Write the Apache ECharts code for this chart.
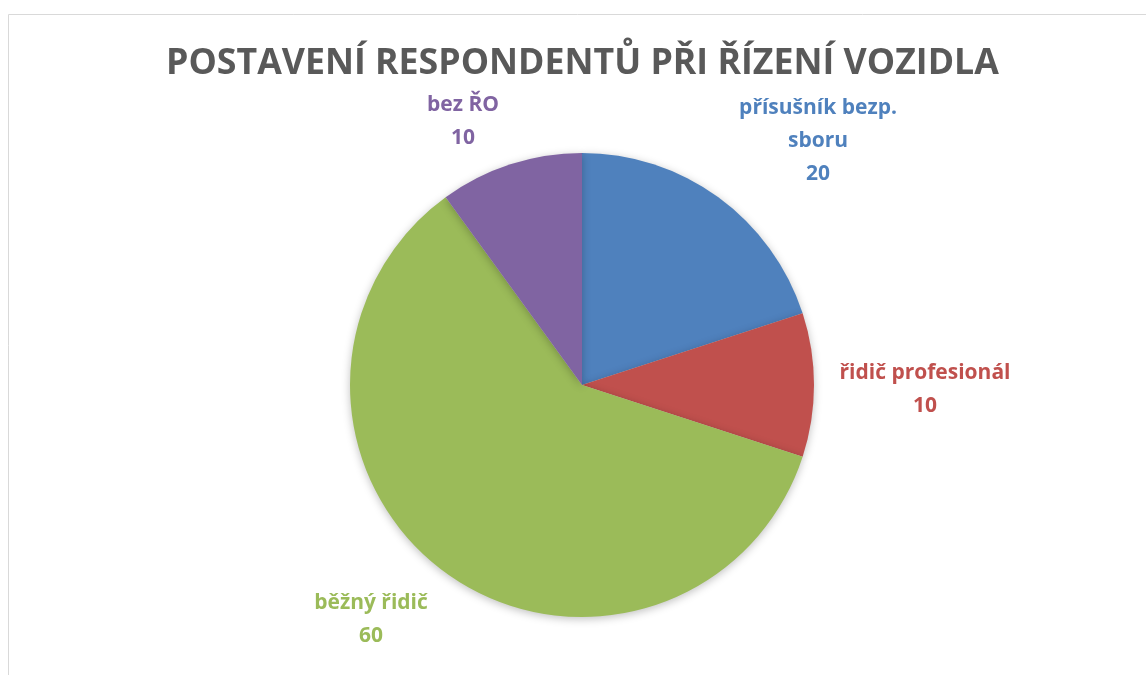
<!DOCTYPE html>
<html>
<head>
<meta charset="utf-8">
<script src="https://cdn.jsdelivr.net/npm/echarts@6/dist/echarts.min.js"></script>
<style>
html,body{margin:0;padding:0;background:#fff;}
#c{width:1146px;height:675px;}
</style>
</head>
<body>
<div id="c"></div>
<script>
const titleText = 'POSTAVENÍ RESPONDENTŮ PŘI ŘÍZENÍ VOZIDLA';
const categories = ['přísušník bezp. sboru', 'řidič profesionál', 'běžný řidič', 'bez ŘO'];
const values = [20, 10, 60, 10];
const colors = ['#4F81BD', '#C0504D', '#9BBB59', '#8064A2'];
// label anchor points (center of label block), layout only
const labelAnchors = [[818, 141], [925, 390], [371, 620], [463, 122]];
// word after which the label wraps (as in the original), layout only
const wrapAfter = ['bezp.', null, null, null];

const chart = echarts.init(document.getElementById('c'), null, {renderer: 'canvas'});
chart.setOption({
  animation: false,
  title: {
    text: titleText,
    left: 161,
    top: 41,
    textStyle: {fontFamily: 'Open Sans', fontWeight: 'bold', fontSize: 35.7, color: '#595959'}
  },
  graphic: [{
    type: 'rect',
    shape: {x: 8.5, y: 14.5, width: 1200, height: 700},
    style: {fill: 'none', stroke: '#d9d9d9', lineWidth: 1},
    silent: true
  }],
  series: [{
    type: 'pie',
    center: [582, 385],
    radius: [0, 232],
    startAngle: 90,
    clockwise: true,
    data: categories.map((n, i) => ({
      name: n, value: values[i],
      itemStyle: {color: colors[i]},
      label: {color: colors[i]}
    })),
    itemStyle: {
      borderWidth: 0,
      shadowBlur: 8, shadowColor: 'rgba(0,0,0,0.25)', shadowOffsetY: 2
    },
    label: {
      show: true,
      position: 'outside',
      formatter: function (p) {
        const w = wrapAfter[p.dataIndex];
        const name = w ? p.name.replace(w + ' ', w + '\n') : p.name;
        return name + '\n' + p.value;
      },
      fontFamily: 'Open Sans',
      fontWeight: 'bold',
      fontSize: 21,
      lineHeight: 33,
      align: 'center'
    },
    labelLine: {show: false},
    labelLayout: function (p) {
      const a = labelAnchors[p.dataIndex];
      return {x: a[0], y: a[1], align: 'center', verticalAlign: 'middle'};
    },
    emphasis: {disabled: true}
  }]
});
</script>
</body>
</html>
